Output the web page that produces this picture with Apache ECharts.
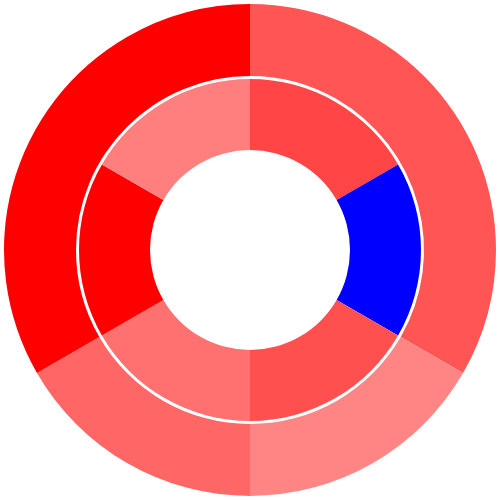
<!DOCTYPE html>
<html>
<head>
<meta charset="utf-8">
<script src="https://cdn.jsdelivr.net/npm/echarts@6/dist/echarts.min.js"></script>
<style>html,body{margin:0;padding:0;background:#fff;}#c{width:500px;height:500px;}</style>
</head>
<body>
<div id="c"></div>
<script>
var outerNames = ['A', 'B', 'C', 'D'];
var outerValues = [2, 1, 1, 2];
var outerColors = ['#ff5555', '#ff8585', '#ff6767', '#ff0000'];
var innerNames = ['A1', 'A2', 'B1', 'C1', 'D1', 'D2'];
var innerValues = [1, 1, 1, 1, 1, 1];
var innerColors = ['#ff4545', '#0000ff', '#ff5050', '#ff7070', '#ff0000', '#ff7f7f'];

function build(names, values, colors) {
  return names.map(function (n, i) {
    return { name: n, value: values[i], itemStyle: { color: colors[i] } };
  });
}

var chart = echarts.init(document.getElementById('c'));
chart.setOption({
  animation: false,
  series: [
    {
      type: 'pie',
      center: [250, 250],
      radius: [174, 246],
      startAngle: 90,
      clockwise: true,
      label: { show: false },
      labelLine: { show: false },
      silent: true,
      itemStyle: { borderWidth: 0 },
      data: build(outerNames, outerValues, outerColors)
    },
    {
      type: 'pie',
      center: [250, 250],
      radius: [100, 171],
      startAngle: 90,
      clockwise: true,
      label: { show: false },
      labelLine: { show: false },
      silent: true,
      itemStyle: { borderWidth: 0 },
      data: build(innerNames, innerValues, innerColors)
    }
  ]
});
</script>
</body>
</html>
